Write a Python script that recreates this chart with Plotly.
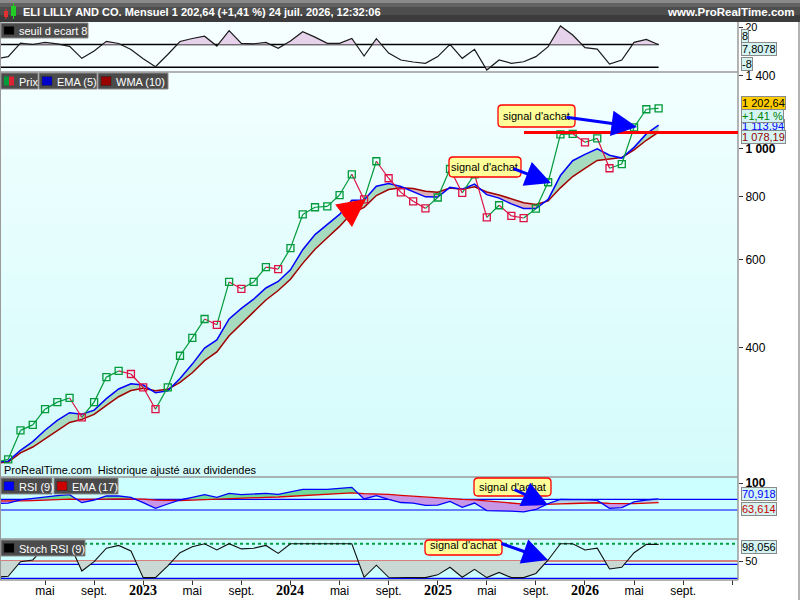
"""
Graphique mensuel Eli Lilly (style ProRealTime) :
seuil d'écart, prix + EMA(5)/WMA(10), RSI(9)+EMA(17), Stoch RSI(9).
"""
import math

import pandas as pd
import plotly.graph_objects as go

# ── Dimensions (px) ──────────────────────────────────────────────────────────
W, H = 800, 600
X_DROIT = 738            # bord droit de la zone de tracé
FONT = "Liberation Sans, Arial, sans-serif"

# ── Données ──────────────────────────────────────────────────────────────────
MOIS = [p.strftime("%Y-%m") for p in pd.period_range("2022-01", "2026-07", freq="M")]

PRIX = [236, 239, 273, 280, 301, 311, 317, 290, 311, 349, 359, 354,
        333, 301, 333, 385, 418, 456, 444, 541, 524, 541, 579, 574,
        632, 738, 763, 766, 807, 888, 791, 943, 872, 817, 784, 759,
        798, 910, 815, 888, 728, 770, 733, 726, 758, 856, 1067, 1070,
        1029, 1048, 913, 931, 1102, 1198, 1202.64]

EMA5 = [236, 237, 249, 259.3, 273.2, 285.8, 296.2, 294.1, 299.7, 316.1, 330.4, 338.3,
        336.5, 324.7, 327.5, 346.7, 370.5, 399, 414, 456.3, 478.9, 499.6, 526.1, 542.1,
        572, 627.4, 672.6, 703.7, 738.1, 788.1, 789, 840.4, 850.9, 839.6, 821.1, 800.4,
        799.6, 836.4, 829.3, 848.9, 808.6, 795.7, 774.8, 758.5, 758.3, 790.9, 882.9, 945.3,
        973.2, 998.1, 969.7, 956.8, 1005.2, 1069.5, 1113.94]

WMA10 = [235, 236, 246.1, 252.9, 262.5, 273.2, 283.2, 287.2, 293.9, 306.4, 318.8, 328.1,
         331.5, 327.9, 329.8, 340.6, 356.0, 376.5, 391.8, 422.3, 446.2, 470.2, 497.7, 519.9,
         547.6, 589.2, 628.9, 662.8, 698.6, 742.5, 762.5, 805.2, 827.8, 835.0, 831.7, 821.2,
         817.4, 833.3, 829.3, 838.5, 818.5, 807.4, 792.6, 779.1, 773.1, 785.4, 834.3, 878.8,
         912.9, 946.7, 952.9, 959.1, 993.5, 1038.6, 1078.19]

SEUIL = [-2, -0.5, 9.0, 8.0, 9.5, 8.5, 6.7, -1.7, 3.5, 10.2, 8.7, 4.5,
         -2.0, -7.6, 1.0, 10.1, 12.2, 13.8, 6.9, 17.7, 8.8, 8.5, 9.5, 5.3,
         10.4, 17.0, 13.2, 8.8, 8.8, 12.2, -0.1, 12.1, 2.0, -2.9, -4.3, -5.2,
         -0.5, 8.1, -1.7, 4.6, -9.9, -2.9, -5.2, -4.1, -0.5, 6.5, 21.0, 14.7,
         5.8, 4.8, -5.7, -2.9, 9.5, 11.6, 7.8078]

RSI = [62, 63, 69, 72, 75, 77, 78.6, 63.7, 68.7, 76.2, 76.2, 73.7,
       63.7, 53.2, 61.2, 68.7, 73.5, 78.6, 73.7, 81.2, 78.6, 79.3, 81.2, 79.3,
       84.2, 88.7, 88.7, 88.7, 90.5, 92.4, 70.6, 77, 70, 64, 63, 58.5,
       59, 66, 55, 63, 49, 48.7, 47.8, 46.4, 51, 62, 70, 69.5,
       69.5, 68, 53.2, 54.6, 65, 68.7, 70.918]

RSI_EMA = [67, 66.6, 66.9, 67.5, 68.3, 69.3, 70.3, 69.6, 69.5, 70.2, 70.9, 71.2,
           70.4, 68.5, 67.7, 67.8, 68.4, 69.5, 70, 71.2, 72, 72.8, 73.7, 74.3,
           75.4, 76.9, 78.2, 79.4, 80.6, 81.9, 80.6, 80.2, 79.1, 77.4, 75.8, 73.9,
           72.2, 71.5, 69.7, 69, 66.8, 64.8, 62.9, 61.1, 60, 60.2, 61.3, 62.2,
           63, 63.6, 62.4, 61.5, 61.9, 62.7, 63.614]

STOCH = [3, 6, 48, 53, 92, 100, 100, 21, 48, 87, 95, 79,
         2, 2, 36, 74, 91, 100, 82, 100, 85, 87, 95, 72,
         100, 100, 100, 100, 100, 100, 3, 38, 3, 2, 2, 2,
         10, 32, 3, 26, 2, 17, 2, 2, 14, 53, 100, 100,
         82, 87, 27, 32, 74, 98, 98.056]

TICK_MOIS = ["2022-05", "2022-09", "2023-01", "2023-05", "2023-09", "2024-01", "2024-05",
             "2024-09", "2025-01", "2025-05", "2025-09", "2026-01", "2026-05", "2026-09",
             "2027-01"]
TICK_TEXTE = ["mai", "sept.", "2023", "mai", "sept.", "2024", "mai", "sept.", "2025",
              "mai", "sept.", "2026", "mai", "sept.", ""]

NIVEAU_RESISTANCE = 1076     # trait rouge horizontal
TITRE = "ELI LILLY AND CO. Mensuel 1 202,64 (+1,41 %) 24 juil. 2026, 12:32:06"

# ── Couleurs ─────────────────────────────────────────────────────────────────
VERT = "#009a3a"
ROUGE = "#dd1144"
BLEU = "#0000ff"
BORDEAUX = "#a00000"
GRIS_BOX = "#4b4b4b"
SEP = "#9a9a9a"
FS = 11                  # taille de police courante


def idx(m):
    a, mo = map(int, m.split("-"))
    return (a - 2022) * 12 + mo - 1


K = [idx(m) for m in MOIS]


def px(x):
    return x / W


def py(y):
    return 1 - y / H


# ── Découpage des zones entre deux courbes ───────────────────────────────────
def bandes(xs, a, b, log=False):
    f = math.log10 if log else (lambda v: v)
    A = [f(v) for v in a]
    B = [f(v) for v in b]
    out = []
    cx, ca, cb = [xs[0]], [A[0]], [B[0]]
    sgn = A[0] >= B[0]
    for i in range(1, len(xs)):
        s = A[i] >= B[i]
        if s != sgn:
            d0, d1 = A[i - 1] - B[i - 1], A[i] - B[i]
            t = d0 / (d0 - d1) if d0 != d1 else 0
            xc = xs[i - 1] + t * (xs[i] - xs[i - 1])
            yc = A[i - 1] + t * (A[i] - A[i - 1])
            cx.append(xc); ca.append(yc); cb.append(yc)
            out.append((sgn, cx, ca, cb))
            cx, ca, cb = [xc], [yc], [yc]
            sgn = s
        cx.append(xs[i]); ca.append(A[i]); cb.append(B[i])
    out.append((sgn, cx, ca, cb))
    g = (lambda v: 10 ** v) if log else (lambda v: v)
    return [(s, x + x[::-1], [g(v) for v in ya + yb[::-1]]) for s, x, ya, yb in out]


fig = go.Figure()


def remplir(polys, c_pos, c_neg, yaxis):
    for s, xs, ys in polys:
        c = c_pos if s else c_neg
        if c is None:
            continue
        fig.add_trace(go.Scatter(x=xs, y=ys, mode="lines", fill="toself", fillcolor=c,
                                 line=dict(width=0, color=c), hoverinfo="skip",
                                 showlegend=False, xaxis="x", yaxis=yaxis))


def ligne(x, y, couleur, largeur, yaxis, dash="solid"):
    fig.add_trace(go.Scatter(x=x, y=y, mode="lines", line=dict(color=couleur, width=largeur, dash=dash),
                             hoverinfo="skip", showlegend=False, xaxis="x", yaxis=yaxis))


n = len(K)

# ── Panneau seuil d'écart ────────────────────────────────────────────────────
remplir(bandes(K, SEUIL, [8] * n), "#e6d2ea", None, "y")
remplir(bandes(K, SEUIL, [-8] * n), None, "#e6d2ea", "y")
ligne(K, SEUIL, "#1a1a1a", 1.2, "y")

# ── Panneau prix ─────────────────────────────────────────────────────────────
remplir(bandes(K, EMA5, WMA10, log=True), "#a6dbbf", "#dcb1b8", "y2")
ligne(K, WMA10, BORDEAUX, 1.5, "y2")
ligne(K, EMA5, BLEU, 1.5, "y2")

seg = {True: ([], []), False: ([], [])}
for k in range(1, n):
    xs, ys = seg[PRIX[k] >= PRIX[k - 1]]
    xs += [K[k - 1], K[k], None]
    ys += [PRIX[k - 1], PRIX[k], None]
ligne(seg[True][0], seg[True][1], VERT, 1.2, "y2")
ligne(seg[False][0], seg[False][1], ROUGE, 1.2, "y2")
couleurs = [VERT if k == 0 or PRIX[k] >= PRIX[k - 1] else ROUGE for k in range(n)]
fig.add_trace(go.Scatter(x=K, y=PRIX, mode="markers", yaxis="y2", xaxis="x",
                         marker=dict(symbol="square-open", size=7, color=couleurs,
                                     line=dict(width=1.3, color=couleurs)),
                         hoverinfo="skip", showlegend=False))

# ── Panneau RSI ──────────────────────────────────────────────────────────────
remplir(bandes(K, RSI, [max(e, 70) for e in RSI_EMA]), "#6edb9c", None, "y3")
remplir(bandes(K, [min(r, 70) for r in RSI], RSI_EMA), "#b4d2e2", None, "y3")
remplir(bandes(K, RSI, RSI_EMA), None, "#c896e6", "y3")

# ── Panneau Stoch RSI ────────────────────────────────────────────────────────
remplir(bandes(K, STOCH, [50] * n), None, "#c9d8d2", "y4")

# ── Formes : fonds, séparateurs, étiquettes ──────────────────────────────────
shapes = []


def rect(x0, y0, x1, y1, fill, line=None, lw=0, layer="above"):
    shapes.append(dict(type="rect", xref="paper", yref="paper",
                       x0=px(x0), x1=px(x1), y0=py(y1), y1=py(y0),
                       fillcolor=fill, line=dict(color=line or fill, width=lw), layer=layer))


def trait(x0, y0, x1, y1, couleur, lw, layer="above"):
    shapes.append(dict(type="line", xref="paper", yref="paper",
                       x0=px(x0), x1=px(x1), y0=py(y0), y1=py(y1),
                       line=dict(color=couleur, width=lw), layer=layer))


# barre de titre (dégradé)
for (a, b, c) in [(0, 3, "#8a8a8a"), (3, 7, "#626262"), (7, 15, "#4e4e4e"), (15, 22, "#3c3c3c")]:
    rect(0, a, W, b, c, layer="below")
# petite icône chandeliers
rect(4, 11, 8, 17, "#e03030")
trait(6, 9, 6, 19, "#e03030", 1)
rect(11, 6, 16, 16, "#22cc22")
trait(13.5, 3, 13.5, 19, "#22cc22", 1)

# fonds des panneaux
rect(0, 22, X_DROIT, 72, "#f5ffff", layer="below")
NB = 24
for i in range(NB):
    t = i / (NB - 1)
    r = round(242 - 30 * t)
    g = round(255 - 4 * t)
    rect(0, 72 + i * 405 / NB, X_DROIT, 72 + (i + 1) * 405 / NB + 0.5,
         f"rgb({r},{g},{g})", layer="below")
rect(0, 477, X_DROIT, 580, "#ccffff", layer="below")

# séparateurs
for yy in (72, 477, 539, 580):
    trait(0, yy, X_DROIT, yy, SEP, 1.5)
trait(X_DROIT, 22, X_DROIT, 580, SEP, 1.5)
trait(0.5, 22, 0.5, 580, SEP, 1)
trait(799, 22, 799, 600, SEP, 1.5)

# niveaux horizontaux
shapes += [
    dict(type="line", xref="x", yref="y", x0=K[0], x1=K[-1], y0=8, y1=8,
         line=dict(color="black", width=1.5), layer="below"),
    dict(type="line", xref="x", yref="y", x0=K[0], x1=K[-1], y0=-8, y1=-8,
         line=dict(color="black", width=1.5), layer="below"),
    dict(type="line", xref="x", yref="y2", x0=idx("2025-08") + 0.03, x1=idx("2027-02") + 0.1,
         y0=NIVEAU_RESISTANCE, y1=NIVEAU_RESISTANCE, line=dict(color="#ff0000", width=3)),
]
for (val, c, dash, w, ax) in [(70, BLEU, "solid", 1.2, "y3"), (50, BLEU, "solid", 1.2, "y3"),
                              (50, "#dd0000", "solid", 1.2, "y4"), (40, BLEU, "solid", 1.2, "y4"),
                              (0, BLEU, "solid", 1.2, "y4"), (100, "#00a040", "dot", 2, "y4")]:
    shapes.append(dict(type="line", xref="paper", yref=ax, x0=0, x1=px(X_DROIT), y0=val, y1=val,
                       line=dict(color=c, width=w, dash=dash), layer="below"))

annotations = []

# lignes RSI / Stoch par-dessus les niveaux
ligne(K, RSI_EMA, "#dd0000", 1.3, "y3")
ligne(K, RSI, BLEU, 1.3, "y3")
ligne(K, STOCH, "#111111", 1.1, "y4")


def texte(x, y, s, size=FS, color="black", anchor="left", bold=False, family=FONT):
    annotations.append(dict(x=px(x), y=py(y), xref="paper", yref="paper", text=f"<b>{s}</b>" if bold else s,
                            showarrow=False, xanchor=anchor, yanchor="middle",
                            font=dict(size=size, color=color, family=family)))


# titre
texte(21, 11.5, TITRE, size=11, color="white", bold=True)
texte(797, 11.5, "www.ProRealTime.com", size=11.5, color="white", anchor="right", bold=True)


# boîtes de légende
def boite_legende(x0, x1, y0, y1, label, carre):
    rect(x0, y0, x1, y1, GRIS_BOX, "#8c8c8c", 1)
    if isinstance(carre, tuple):
        rect(x0 + 3, y0 + 3.5, x0 + 8, y1 - 3.5, carre[0])
        rect(x0 + 8, y0 + 3.5, x0 + 13, y1 - 3.5, carre[1])
    else:
        rect(x0 + 3, y0 + 3.5, x0 + 13, y1 - 3.5, carre, "#222", 0.5)
    texte(x0 + 16, (y0 + y1) / 2 + 0.5, label, size=FS, color="white")


boite_legende(1, 88, 23, 38, "seuil d ecart 8", "#000000")
boite_legende(1, 38, 73, 89, "Prix", (VERT, "#dd2233"))
boite_legende(39, 97, 73, 89, "EMA (5)", "#0000cc")
boite_legende(98, 168, 73, 89, "WMA (10)", "#990000")
boite_legende(1, 52, 478, 494, "RSI (9)", "#0000ff")
boite_legende(54, 118, 478, 494, "EMA (17)", "#cc0000")
boite_legende(1, 85, 540, 556, "Stoch RSI (9)", "#000000")

texte(2, 470, "ProRealTime.com  Historique ajusté aux dividendes", size=FS)


# boîtes "signal d'achat" + flèches
def boite_signal(x0, y0, x1, y1, r=4):
    def P(x, y):
        return f"{px(x):.5f},{py(y):.5f}"
    path = (f"M {P(x0 + r, y0)} L {P(x1 - r, y0)} Q {P(x1, y0)} {P(x1, y0 + r)} "
            f"L {P(x1, y1 - r)} Q {P(x1, y1)} {P(x1 - r, y1)} L {P(x0 + r, y1)} "
            f"Q {P(x0, y1)} {P(x0, y1 - r)} L {P(x0, y0 + r)} Q {P(x0, y0)} {P(x0 + r, y0)} Z")
    shapes.append(dict(type="path", xref="paper", yref="paper", path=path,
                       fillcolor="#ffff99", line=dict(color="#ff0000", width=1.3), layer="above"))


def fleche(xq, yq, xp, yp, couleur=BLEU, w=3, taille=1.7):
    annotations.append(dict(x=px(xp), y=py(yp), xref="paper", yref="paper", text="",
                            showarrow=True, ax=xq - xp, ay=yq - yp, axref="pixel", ayref="pixel",
                            arrowhead=2, arrowsize=taille, arrowwidth=w, arrowcolor=couleur))


for (x0, y0, x1, y1, ty) in [(449, 157, 521, 177, 167), (498, 105, 575, 127, 116),
                              (474, 478, 551, 496, 487), (425, 540, 502, 555, 545)]:
    boite_signal(x0, y0, x1, y1)
    texte((x0 + x1) / 2, ty, "signal d'achat", size=FS, anchor="center")

fleche(512, 168, 551, 183)
fleche(565, 117, 637, 127)
fleche(513, 489, 548, 505)
fleche(500, 543, 548, 560)
fleche(342, 217, 366, 199, couleur="#ff0000", w=3.5, taille=1.6)


# étiquettes de valeurs à droite
def valeur(y, s, color="black", bg="#d4f4f4"):
    annotations.append(dict(x=px(741), y=py(y), xref="paper", yref="paper", text=s,
                            showarrow=False, xanchor="left", yanchor="middle",
                            bgcolor=bg, bordercolor="#8a8a8a", borderwidth=1, borderpad=0,
                            font=dict(size=FS, color=color, family=FONT)))


valeur(36.5, "8")
valeur(49, "7,8078")
valeur(63.5, "-8")
valeur(102.5, "1 202,64", bg="#ffcc00")
valeur(126, "1 113,94", color="#0000ff")
valeur(116.5, "+1,41 %", color="#008000")
valeur(136.5, "1 078,19", color="#990000")
valeur(494, "70,918", color="#0000ff")
valeur(509, "63,614", color="#cc0000")
valeur(547, "98,056")

# années en gras (police à empattements)
for m, t in zip(TICK_MOIS, TICK_TEXTE):
    if t[:1].isdigit():
        annotations.append(dict(x=idx(m), y=py(590), xref="x", yref="paper", text=f"<b>{t}</b>",
                                showarrow=False, xanchor="center", yanchor="middle",
                                font=dict(size=14, color="black", family="Liberation Serif, serif")))

# ── Axes ─────────────────────────────────────────────────────────────────────
commun = dict(showgrid=False, zeroline=False, fixedrange=True, automargin=False,
              ticks="outside", ticklen=4, tickcolor="#333", showline=False,
              tickfont=dict(size=FS, color="black", family=FONT))
grand = dict(size=12, color="black", family=FONT)

fig.update_layout(
    width=W, height=H,
    margin=dict(l=0, r=0, t=0, b=0),
    paper_bgcolor="white",
    plot_bgcolor="rgba(0,0,0,0)",
    showlegend=False,
    xaxis=dict(domain=[0, px(X_DROIT)], range=[0.33, 60.47], anchor="y4",
               tickmode="array", tickvals=[idx(m) for m in TICK_MOIS],
               ticktext=["" if t[:1].isdigit() else t for t in TICK_TEXTE],
               ticklabelstandoff=-4, **{**commun, "ticklen": 5, "tickfont": grand}),
    yaxis=dict(domain=[py(72), py(22)], range=[-11.3, 23.8], side="right", anchor="x",
               tickmode="array", tickvals=[20], ticktext=["20"], **commun),
    yaxis2=dict(domain=[py(477), py(72)], type="log", range=[2.343, 3.153], side="right",
                anchor="x", tickmode="array", tickvals=[400, 600, 800, 1000, 1400],
                ticktext=["400", "600", "800", "<b>1 000</b>", "1 400"],
                **{**commun, "tickfont": grand}),
    yaxis3=dict(domain=[py(539), py(477)], range=[-4.2, 111.7], side="right", anchor="x",
                tickmode="array", tickvals=[100], ticktext=["<b>100</b>"],
                **{**commun, "tickfont": grand}),
    yaxis4=dict(domain=[py(579), py(539)], range=[-2.0, 113.6], side="right", anchor="x",
                tickmode="array", tickvals=[50], ticktext=["50"], **commun),
    shapes=shapes,
    annotations=annotations,
)

# la page HTML ajoute une marge de 8 px au body : on la retire ; pas de barre d'outils
fig.write_html("out.html", config={"displayModeBar": False},
               post_script="document.body.style.margin='0';document.body.style.overflow='hidden';")
